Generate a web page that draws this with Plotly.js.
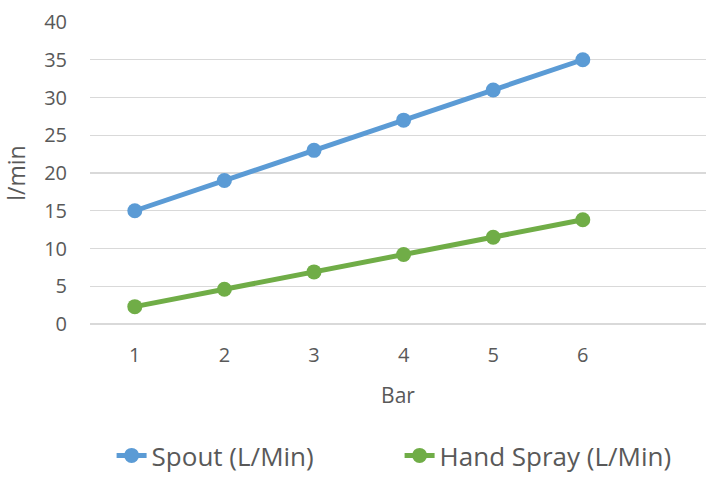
<!DOCTYPE html>
<html>
<head>
<meta charset="utf-8">
<script src="https://cdn.plot.ly/plotly-3.0.1.min.js"></script>
<style>html,body{margin:0;padding:0;background:#fff;}#chart{width:706px;height:479px;}</style>
</head>
<body>
<div id="chart"></div>
<script>
const bars = [1, 2, 3, 4, 5, 6];
const spout = [15, 19, 23, 27, 31, 35];
const handSpray = [2.3, 4.6, 6.9, 9.2, 11.5, 13.8];
const yTicks = [0, 5, 10, 15, 20, 25, 30, 35, 40];

const font = "'Open Sans', 'Noto Sans', sans-serif";

const traces = [
  {x: bars, y: spout, name: 'Spout (L/Min)', type: 'scatter', mode: 'lines+markers',
   line: {color: '#5b9bd5', width: 5}, marker: {color: '#5b9bd5', size: 15}},
  {x: bars, y: handSpray, name: 'Hand Spray (L/Min)', type: 'scatter', mode: 'lines+markers',
   line: {color: '#70ad47', width: 5}, marker: {color: '#70ad47', size: 15}}
];

const layout = {
  width: 706, height: 479,
  margin: {l: 90, r: 0, t: 22, b: 155},
  paper_bgcolor: '#fff', plot_bgcolor: '#fff',
  font: {family: font, color: '#595959', size: 20},
  showlegend: true,
  legend: {orientation: 'h', x: 0.566, xref: 'container', xanchor: 'center', y: 0, yref: 'container', yanchor: 'bottom',
           font: {size: 26, color: '#595959'}, entrywidth: 243, entrywidthmode: 'pixels'},
  xaxis: {range: [0.5, 7.375], tickvals: bars, ticktext: bars.map(String), showgrid: false, zeroline: false,
          showline: false, ticks: '', ticklabelstandoff: 17, tickfont: {size: 20, color: '#595959'},
          title: {text: 'Bar', font: {size: 21, color: '#595959'}, standoff: 21}},
  yaxis: {range: [0, 40], tickvals: yTicks, showgrid: true, gridcolor: '#d9d9d9', gridwidth: 1.3, zeroline: true,
          zerolinecolor: '#d9d9d9', zerolinewidth: 1.3, showline: false, ticks: '', ticklabelstandoff: 22,
          tickfont: {size: 20, color: '#595959'},
          title: {text: 'l/min', font: {size: 23, color: '#595959'}, standoff: 12}}
};

Plotly.newPlot('chart', traces, layout, {displayModeBar: false, staticPlot: true});
</script>
</body>
</html>
